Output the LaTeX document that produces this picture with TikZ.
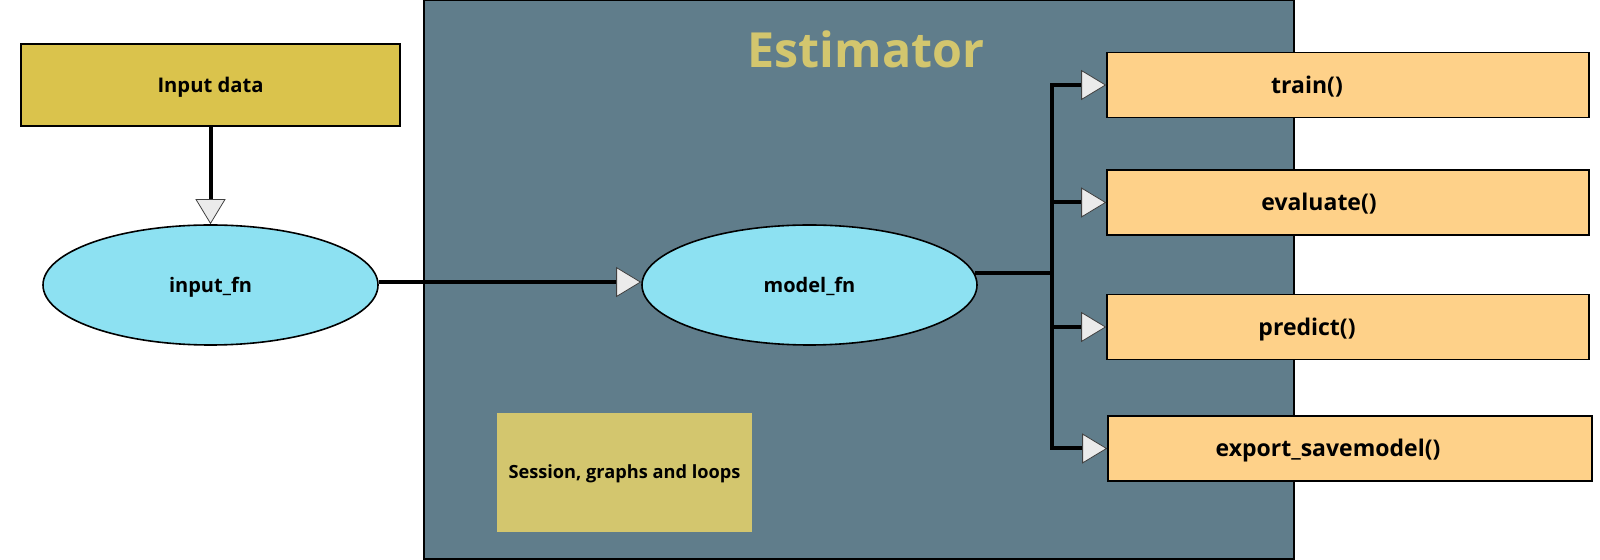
\documentclass[tikz,border=0pt]{standalone}
\usepackage{fontspec}
\setmainfont{Open Sans}
\usepackage{tikz}
\usetikzlibrary{shapes.geometric}
\usetikzlibrary{arrows.meta}

\definecolor{estgrey}{HTML}{607D8B}
\definecolor{estkhaki}{HTML}{D3C66E}
\definecolor{datagold}{HTML}{DAC34C}
\definecolor{fncyan}{HTML}{8DE1F2}
\definecolor{methodorange}{HTML}{FED189}
\definecolor{tipgrey}{HTML}{EBEBEB}
\definecolor{tipedge}{HTML}{404040}

\begin{document}
\begin{tikzpicture}[x=0.5pt,y=-0.5pt,
	fnnode/.style={ellipse,draw=black,line width=0.8pt,fill=fncyan,inner sep=0pt,
		minimum width=167.5pt,minimum height=60pt,
		font=\fontsize{10}{12}\selectfont\bfseries,text height=7.1pt,text depth=0pt},
	methodbox/.style={rectangle,draw=black,line width=0.8pt,fill=methodorange,inner sep=0pt,
		minimum width=241pt,minimum height=32.5pt},
	methodtext/.style={font=\fontsize{11.5}{14}\selectfont\bfseries,text height=8.2pt,text depth=0pt},
	wire/.style={line width=2pt},
	link/.style={wire,-{Triangle[length=12.5pt,width=15pt,fill=tipgrey,color=tipedge,line width=0.4pt]}}]
	% keep the page at the reference size
	\useasboundingbox (0,0) rectangle (1600,560);
	
	% big Estimator panel and its title
	\node[rectangle,draw=black,line width=0.7pt,fill=estgrey,inner sep=0pt,
		minimum width=435pt,minimum height=279.5pt] (est) at (859,279.5) {};
	\node[text=estkhaki,font=\fontsize{24.2}{28}\selectfont\bfseries,text height=17.3pt,text depth=0pt] (esttitle) at (866,50) {Estimator};
	
	% input side
	\node[rectangle,draw=black,line width=0.8pt,fill=datagold,inner sep=0pt,
		minimum width=189.5pt,minimum height=41pt,
		font=\fontsize{10.1}{12}\selectfont\bfseries,text height=7.2pt,text depth=0pt] (indata) at (210.5,85) {Input data};
	\node[fnnode] (infn) at (210.5,285) {input\_fn};
	\node[fnnode] (model) at (809.5,285) {model\_fn};
	
	% session box, no border
	\node[rectangle,fill=estkhaki,inner sep=0pt,minimum width=127.5pt,minimum height=59.5pt,
		font=\fontsize{9.1}{11}\selectfont\bfseries,text height=6.5pt,text depth=0pt] (session) at (624.5,472.5) {Session, graphs and loops};
	
	% the four methods, text sits a bit left of the middle
	\node[methodbox,label={[methodtext,xshift=-20.5pt]center:train()}] (train) at (1348,85) {};
	\node[methodbox,label={[methodtext,xshift=-14.5pt]center:evaluate()}] (evaluate) at (1348,202.5) {};
	\node[methodbox,label={[methodtext,xshift=-20.5pt]center:predict()}] (predict) at (1348,327) {};
	\node[methodbox,minimum width=242pt,label={[methodtext,xshift=-11pt]center:export\_savemodel()}] (export) at (1350,448.5) {};
	
	% connectors
	\draw[link] (indata) -- (infn);
	\draw[link] (infn.1.5) -- (infn.1.5 -| model.west);
	% split point of the four method arrows
	\coordinate (forkx) at (1052,0);
	\coordinate (fork) at (model.4 -| forkx);
	\draw[wire] (model.4) -- (fork);
	\foreach \m in {train,evaluate,predict,export}
		\draw[link] (fork) |- (\m);
	
\end{tikzpicture}
\end{document}
